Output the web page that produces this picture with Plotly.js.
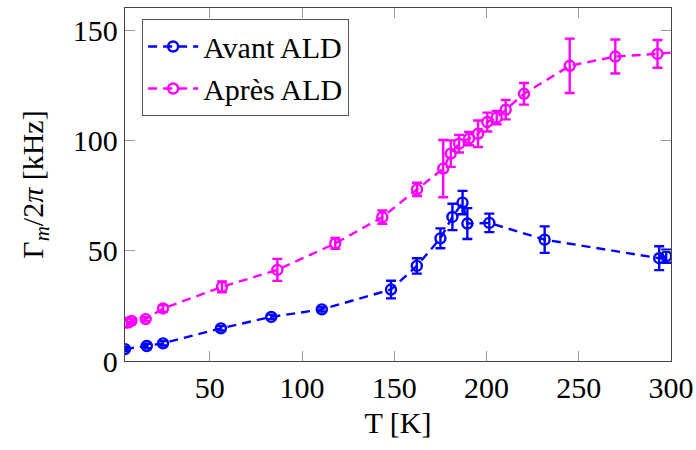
<!DOCTYPE html>
<html>
<head>
<meta charset="utf-8">
<script src="https://cdn.plot.ly/plotly-3.0.1.min.js"></script>
<style>html,body{margin:0;padding:0;background:#fff;}#chart{width:696px;height:450px;}</style>
</head>
<body>
<div id="chart"></div>
<script>
// Avant ALD (before ALD)
const avantT   = [4, 15.8, 24.6, 56, 83.3, 110.7, 148.2, 162.2, 175, 181.5, 187, 189.6, 201.5, 231.5, 293.6, 297.4];
const avantG   = [5.4, 6.8, 8.0, 14.8, 20.0, 23.4, 32.4, 43.1, 55.6, 65.3, 71.8, 62.3, 62.6, 55.0, 46.6, 47.5];
const avantErr = [1, 1, 1, 1, 1, 1, 4, 3.5, 4.5, 6, 5.3, 7, 4.2, 6, 5.4, 3];

// Après ALD (after ALD)
const apresT   = [5, 7.5, 15.2, 24.6, 56.6, 86.6, 118, 143.5, 162.3, 176.5, 180.6, 185.1, 190.5, 195.4, 200.4, 205.5, 210.4, 220.3, 245.1, 269.8, 292.7, 305];
const apresG   = [17.4, 18.2, 19.0, 23.8, 33.6, 41.3, 53.3, 65.2, 77.8, 87.2, 94.0, 98.5, 100.8, 103.0, 108.3, 110.3, 113.9, 121.1, 133.8, 138.0, 139.2, 140.2];
const apresErr = [2, 1, 1, 1.5, 2.5, 5, 2.5, 3, 3, 13, 6, 4, 3, 6, 4.3, 3, 4.4, 4.9, 12.3, 7.7, 6.3, 5];

const xTicks = [50, 100, 150, 200, 250, 300];
const yTicks = [0, 50, 100, 150];

const FONT = '"Liberation Serif", "Times New Roman", serif';

function series(name, x, y, err, color) {
  return {
    type: 'scatter', mode: 'lines+markers', name: name,
    x: x, y: y,
    error_y: {type: 'data', array: err, visible: true, color: color, thickness: 2.4, width: 5},
    line: {color: color, width: 2.4, dash: '9px,6px'},
    marker: {symbol: 'circle-open', size: 10, color: color, line: {color: color, width: 2.4}},
    cliponaxis: true
  };
}

const data = [
  series('Avant ALD', avantT, avantG, avantErr, '#0000ff'),
  series('Après ALD', apresT, apresG, apresErr, '#ff00ff')
];

const layout = {
  width: 696, height: 450,
  margin: {l: 125, r: 25, t: 8, b: 89},
  paper_bgcolor: '#fff', plot_bgcolor: '#fff',
  font: {family: FONT, size: 30, color: '#000'},
  showlegend: true,
  legend: {
    x: 0.031, y: 0.968, xanchor: 'left', yanchor: 'top',
    bgcolor: '#fff', bordercolor: '#555', borderwidth: 1.2,
    itemwidth: 50,
    font: {family: FONT, size: 30, color: '#000'}
  },
  xaxis: {
    range: [4, 300], tickvals: xTicks, ticktext: xTicks.map(String),
    ticks: 'inside', ticklen: 10, tickcolor: '#999', tickwidth: 1,
    tickfont: {family: FONT, size: 30},
    showline: true, linecolor: '#444', linewidth: 1.3, mirror: 'allticks',
    showgrid: false, zeroline: false,
    title: {text: 'T [K]', font: {family: FONT, size: 30}, standoff: 8}
  },
  yaxis: {
    range: [0, 160], tickvals: yTicks, ticktext: yTicks.map(String),
    ticks: 'inside', ticklen: 10, tickcolor: '#999', tickwidth: 1,
    tickfont: {family: FONT, size: 30},
    showline: true, linecolor: '#444', linewidth: 1.3, mirror: 'allticks',
    showgrid: false, zeroline: false,
    title: {text: 'Γ<sub><i>m</i></sub>/2<i>π</i> [kHz]', font: {family: FONT, size: 30}, standoff: 20}
  }
};

Plotly.newPlot('chart', data, layout, {displayModeBar: false, staticPlot: true});
</script>
</body>
</html>
